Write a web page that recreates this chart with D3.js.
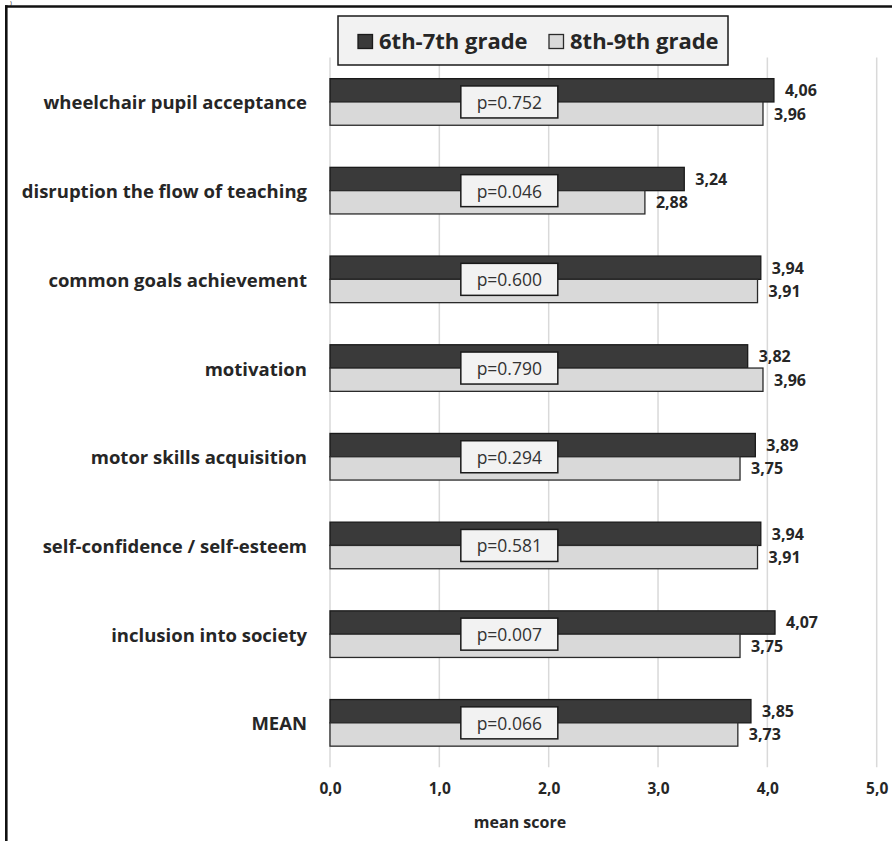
<!DOCTYPE html>
<html>
<head>
<meta charset="utf-8">
<script src="https://cdn.jsdelivr.net/npm/d3@7/dist/d3.min.js"></script>
<style>
  html, body { margin: 0; padding: 0; background: #fff; }
  svg { display: block; }
  text { font-family: "Open Sans", "DejaVu Sans", sans-serif; fill: #262626; }
</style>
</head>
<body>
<svg id="chart" width="892" height="841"></svg>
<script>
// ---- data ----
const categories = [
  "wheelchair pupil acceptance",
  "disruption the flow of teaching",
  "common goals achievement",
  "motivation",
  "motor skills acquisition",
  "self-confidence / self-esteem",
  "inclusion into society",
  "MEAN"
];
const seriesNames = ["6th-7th grade", "8th-9th grade"];
const grade67 = [4.06, 3.24, 3.94, 3.82, 3.89, 3.94, 4.07, 3.85];
const grade89 = [3.96, 2.88, 3.91, 3.96, 3.75, 3.91, 3.75, 3.73];
const pValues = [0.752, 0.046, 0.600, 0.790, 0.294, 0.581, 0.007, 0.066];
const tickValues = [0, 1, 2, 3, 4, 5];
const tickLabels = ["0,0", "1,0", "2,0", "3,0", "4,0", "5,0"];
const axisTitle = "mean score";

// ---- layout ----
const svg = d3.select("#chart");
const colors = ["#3a3a3a", "#d9d9d9"];
const strokes = ["#1a1a1a", "#2a2a2a"];

const x = d3.scaleLinear().domain([0, 5]).range([330, 876.7]);
const y = d3.scaleBand().domain(categories).range([57.6, 767.2])
  .paddingInner(0.4746).paddingOuter(0.2373);
const ySub = d3.scaleBand().domain(seriesNames).range([0, y.bandwidth()]);

// frame
svg.append("line").attr("x1", 5).attr("x2", 892).attr("y1", 6.5).attr("y2", 6.5)
  .attr("stroke", "#111").attr("stroke-width", 2.6);
svg.append("line").attr("x1", 6.3).attr("x2", 6.3).attr("y1", 5.2).attr("y2", 841)
  .attr("stroke", "#111").attr("stroke-width", 2.6);
svg.append("text").attr("x", 10).attr("y", 4.6).attr("font-size", 6).style("fill", "#111").text(")");

// gridlines
svg.append("g").selectAll("line").data(tickValues).join("line")
  .attr("x1", d => x(d)).attr("x2", d => x(d))
  .attr("y1", y.range()[0]).attr("y2", y.range()[1])
  .attr("stroke", "#d9d9d9").attr("stroke-width", 1.5);

// bars
const rows = svg.append("g").selectAll("g").data(categories).join("g")
  .attr("transform", d => `translate(0,${y(d)})`);

const seriesVals = [grade67, grade89];
seriesNames.forEach((s, si) => {
  rows.append("rect")
    .attr("x", x(0))
    .attr("y", ySub(s))
    .attr("width", (d, i) => x(seriesVals[si][i]) - x(0))
    .attr("height", ySub.bandwidth())
    .attr("fill", colors[si])
    .attr("stroke", strokes[si])
    .attr("stroke-width", 1.3);
  rows.append("text")
    .attr("x", (d, i) => x(seriesVals[si][i]) + 11)
    .attr("y", ySub(s) + ySub.bandwidth() / 2)
    .attr("dominant-baseline", "central")
    .attr("font-size", 16)
    .attr("font-weight", 700)
    .text((d, i) => d3.format(".2f")(seriesVals[si][i]).replace(".", ","));
});

// p-value boxes
const boxW = 97, boxH = 32, boxCx = x(1.64);
rows.append("rect")
  .attr("x", boxCx - boxW / 2)
  .attr("y", y.bandwidth() / 2 - boxH / 2)
  .attr("width", boxW).attr("height", boxH)
  .attr("fill", "#f2f2f2").attr("stroke", "#1a1a1a").attr("stroke-width", 1.5);
rows.append("text")
  .attr("x", boxCx)
  .attr("y", y.bandwidth() / 2)
  .attr("text-anchor", "middle")
  .attr("dominant-baseline", "central")
  .attr("font-size", 17.5)
  .style("fill", "#333")
  .text((d, i) => "p=" + d3.format(".3f")(pValues[i]));

// category labels
rows.append("text")
  .attr("x", 307)
  .attr("y", y.bandwidth() / 2)
  .attr("text-anchor", "end")
  .attr("dominant-baseline", "central")
  .attr("font-size", 18.5)
  .attr("font-weight", 700)
  .text(d => d);

// x axis
const axis = d3.axisBottom(x).tickValues(tickValues).tickSize(0)
  .tickFormat((d, i) => tickLabels[i]);
const gAxis = svg.append("g").attr("transform", `translate(0,${y.range()[1]})`).call(axis);
gAxis.select(".domain").remove();
gAxis.selectAll("text")
  .attr("dy", null).attr("y", 27)
  .attr("font-size", 15.5).attr("font-weight", 700)
  .attr("font-family", null)
  .style("fill", "#262626");

svg.append("text").attr("x", 520).attr("y", 828)
  .attr("text-anchor", "middle").attr("font-size", 16).attr("font-weight", 700)
  .text(axisTitle);

// legend
const lg = svg.append("g");
lg.append("rect").attr("x", 338).attr("y", 16).attr("width", 390).attr("height", 49)
  .attr("fill", "#f2f2f2").attr("stroke", "#1a1a1a").attr("stroke-width", 1.5);
const legendX = [358, 549];
seriesNames.forEach((s, si) => {
  lg.append("rect").attr("x", legendX[si]).attr("y", 34.5).attr("width", 14.5).attr("height", 14)
    .attr("fill", colors[si]).attr("stroke", strokes[si]).attr("stroke-width", 1.3);
  lg.append("text").attr("x", legendX[si] + 21).attr("y", 48.5)
    .attr("font-size", 22).attr("font-weight", 700).text(s);
});
</script>
</body>
</html>
